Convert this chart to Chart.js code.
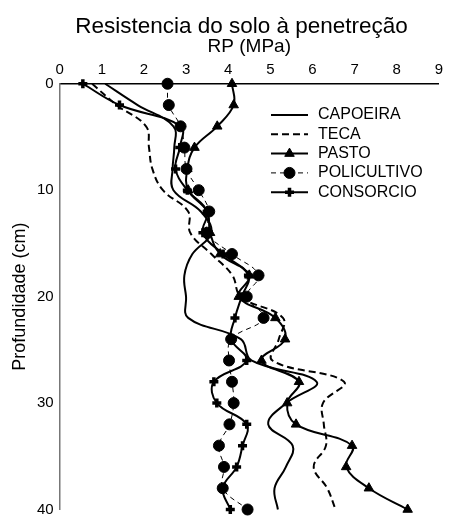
<!DOCTYPE html>
<html>
<head>
<meta charset="utf-8">
<script src="https://cdn.jsdelivr.net/npm/chart.js@4.4.0/dist/chart.umd.min.js"></script>
<style>
html, body { margin: 0; padding: 0; background: #fff; overflow: hidden; }
#wrap { width: 449px; height: 520px; }
</style>
</head>
<body>
<div id="wrap"><canvas id="chRP"></canvas></div>
<script>
// profundidade em cm (eixo vertical, invertido)
var profundidade = [0, 2, 4, 6, 8, 10, 12, 14, 16, 18, 20, 22, 24, 26, 28, 30, 32, 34, 36, 38, 40];
// RP (MPa)
var capoeira    = [1.08, 1.85, 2.70, 2.72, 2.68, 2.70, 3.35, 3.60, 3.15, 2.96, 3.00, 3.05, 4.30, 4.55, 6.10, 5.38, 4.95, 5.53, 5.37, 5.10, 5.18];
var teca        = [0.77, 1.35, 2.05, 2.12, 2.20, 2.45, 3.05, 3.10, 3.60, 4.10, 4.30, 5.30, 5.20, 5.05, 6.75, 6.25, 6.27, 6.32, 6.03, 6.35, 6.55];
var pasto       = [4.09, 4.13, 3.74, 3.20, 3.03, 3.05, 3.50, 3.57, 3.81, 4.50, 4.25, 5.12, 5.35, 4.79, 5.68, 5.40, 5.61, 6.94, 6.80, 7.34, 8.26];
var policultivo = [2.56, 2.59, 2.87, 2.96, 3.01, 3.30, 3.55, 3.50, 4.09, 4.72, 4.44, 4.84, 4.07, 4.02, 4.09, 4.13, 4.03, 3.78, 3.90, 3.87, 4.46];
var consorcio   = [0.55, 1.42, 2.87, 2.85, 2.75, 3.03, 3.50, 3.40, 3.88, 4.48, 4.32, 4.16, 4.07, 4.44, 3.66, 3.73, 4.44, 4.34, 4.20, 3.87, 4.05];
var xTicks = [0, 1, 2, 3, 4, 5, 6, 7, 8, 9];
var yTicks = [0, 10, 20, 30, 40];

var fonte = "'Liberation Sans', Arial, sans-serif";

function pontos(valores) {
    return valores.map(function (v, i) { return { x: v, y: profundidade[i] }; });
}

function serie(nome, valores, estilo) {
    var ds = {
        label: nome,
        data: pontos(valores),
        showLine: true,
        borderColor: '#000',
        backgroundColor: '#000',
        pointBackgroundColor: '#000',
        pointBorderColor: '#000',
        borderWidth: 2,
        tension: 0.4,
        clip: false,
        pointRadius: 0,
        pointHoverRadius: 0
    };
    for (var k in estilo) ds[k] = estilo[k];
    return ds;
}

/* legenda desenhada dentro da area do grafico */
var legendaRP = {
    id: 'legendaRP',
    afterLayout: function (chart) {
        // titulo um pouco a direita, como no original
        if (chart.titleBlock) chart.titleBlock.left = 34;
    },
    afterDraw: function (chart) {
        var ctx = chart.ctx;
        var x0 = 271, x1 = 308, xt = 318, y0 = 115, passo = 19.3;
        chart.data.datasets.forEach(function (ds, i) {
            var yy = y0 + i * passo;
            ctx.save();
            ctx.strokeStyle = '#000';
            ctx.fillStyle = '#000';
            ctx.lineWidth = ds.borderWidth;
            ctx.setLineDash(ds.borderDash || []);
            ctx.beginPath();
            ctx.moveTo(x0, yy);
            ctx.lineTo(x1, yy);
            ctx.stroke();
            ctx.setLineDash([]);
            if (ds.pointRadius > 0) {
                ctx.lineWidth = ds.pointBorderWidth || 1;
                Chart.helpers.drawPoint(ctx, {
                    pointStyle: ds.pointStyle,
                    radius: ds.pointRadius,
                    borderWidth: ds.pointBorderWidth || 1,
                    rotation: 0
                }, (x0 + x1) / 2, yy);
            }
            ctx.font = '16px ' + fonte;
            ctx.textBaseline = 'middle';
            ctx.textAlign = 'left';
            ctx.fillText(ds.label, xt, yy);
            ctx.restore();
        });
    }
};

new Chart(document.getElementById('chRP'), {
    type: 'scatter',
    data: {
        datasets: [
            serie('CAPOEIRA', capoeira, {}),
            serie('TECA', teca, { borderDash: [7, 4] }),
            serie('PASTO', pasto, { pointStyle: 'triangle', pointRadius: 5.5, pointBorderWidth: 1 }),
            serie('POLICULTIVO', policultivo, { borderWidth: 1, borderDash: [5, 4], pointStyle: 'circle', pointRadius: 5.5, pointBorderWidth: 1 }),
            serie('CONSORCIO', consorcio, { pointStyle: 'cross', pointRadius: 4.5, pointBorderWidth: 3.5 })
        ]
    },
    options: {
        responsive: true,
        maintainAspectRatio: false,
        animation: false,
        layout: { padding: 0 },
        plugins: {
            legend: { display: false },
            tooltip: { enabled: false },
            title: {
                display: true,
                text: 'Resistencia do solo à penetreção',
                color: '#000',
                font: { family: fonte, size: 22.5, weight: 'normal', lineHeight: 0.9 },
                padding: { top: 17, bottom: 0.5 }
            }
        },
        scales: {
            x: {
                type: 'linear',
                position: 'top',
                min: 0,
                max: 9,
                afterBuildTicks: function (axis) { axis.ticks = xTicks.map(function (v) { return { value: v }; }); },
                ticks: { color: '#000', padding: 6, font: { family: fonte, size: 15, lineHeight: 1 } },
                grid: { display: false, drawTicks: false, tickLength: 0 },
                border: { color: '#000', width: 1.5 },
                title: {
                    display: true,
                    text: 'RP (MPa)',
                    color: '#000',
                    font: { family: fonte, size: 19, lineHeight: 1 },
                    padding: { top: 0, bottom: 0 }
                }
            },
            y: {
                type: 'linear',
                reverse: true,
                min: 0,
                max: 40,
                afterBuildTicks: function (axis) { axis.ticks = yTicks.map(function (v) { return { value: v }; }); },
                ticks: { color: '#000', padding: 6, font: { family: fonte, size: 15, lineHeight: 0.6 } },
                grid: { display: false, drawTicks: false, tickLength: 0 },
                border: { color: '#777', width: 1.5 },
                title: {
                    display: true,
                    text: 'Profundidade (cm)',
                    color: '#000',
                    font: { family: fonte, size: 18, lineHeight: 1 },
                    padding: { top: 11, bottom: 2 }
                }
            }
        }
    },
    plugins: [legendaRP]
});
</script>
</body>
</html>
